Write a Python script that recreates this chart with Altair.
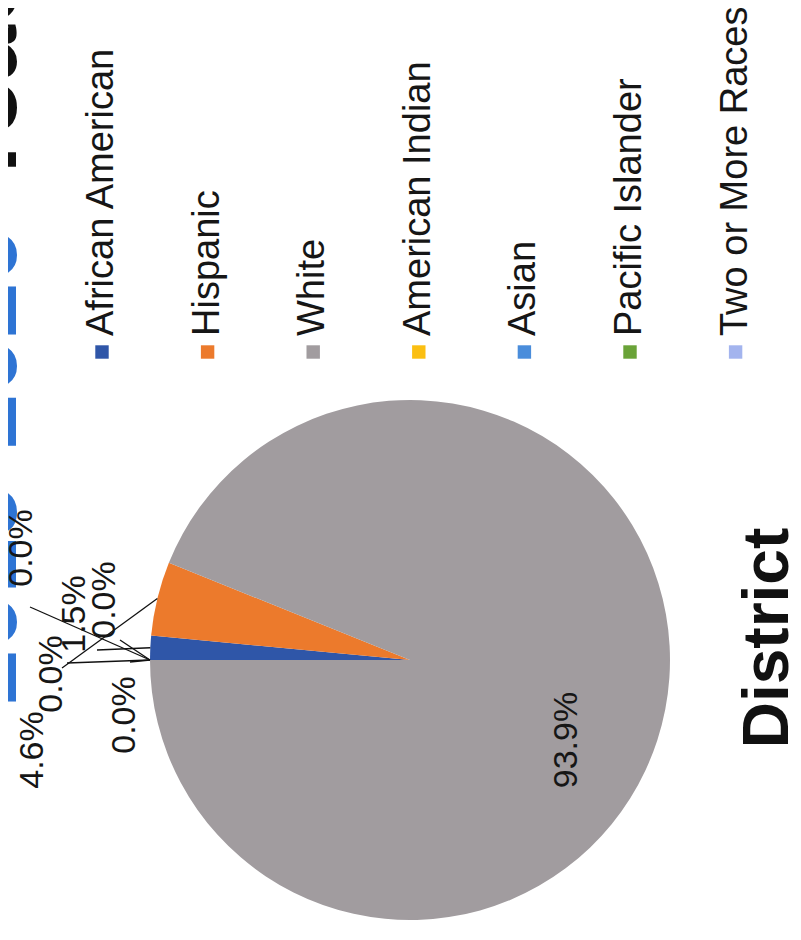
import math
import altair as alt
import pandas as pd

# ---- data -------------------------------------------------------------
categories = ["African American", "Hispanic", "White", "American Indian",
              "Asian", "Pacific Islander", "Two or More Races"]
values = [1.5, 4.6, 93.9, 0.0, 0.0, 0.0, 0.0]
colors = ["#2f56a8", "#ec7a2c", "#a19c9f", "#fbbf12",
          "#4a8ddb", "#6aa338", "#a3b4ee"]
title_parts = ["2019-2020", "Teacher"]
subtitle = "District"

# ---- layout (style constants, not data) --------------------------------
W, H = 785, 924
CX, CY, R = 402, 652, 260
# label centre offsets from the pie centre (Excel-style manual placement)
label_off = [(-335, -46), (-377, 90), (157, 80), (-305, -60),
             (-358, 14), (-388, -112), (-285, 55)]
# leader line end offsets (None = no leader)
leader_end = [(-313, -10), (-348, 8), None, (-290, -20),
              (-343, 3), (-380, -53), (-280, 2)]
START = 1.5 * math.pi

df = pd.DataFrame({"category": categories, "value": values,
                   "order": list(range(len(categories)))})
df["label"] = [f"{v:.1f}%" for v in values]
df["lx"] = [CX + o[0] for o in label_off]
df["ly"] = [CY + o[1] for o in label_off]

total = sum(values)
rows = []
cum = 0.0
for cat, v, end in zip(categories, values, leader_end):
    mid = START + 2 * math.pi * (cum + v / 2) / total
    cum += v
    if end is None:
        continue
    rows.append({"category": cat,
                 "x": CX + R * math.sin(mid), "y": CY - R * math.cos(mid),
                 "x2": CX + end[0], "y2": CY + end[1]})
leaders = pd.DataFrame(rows)

color_scale = alt.Scale(domain=categories, range=colors)

pie = alt.Chart(df).mark_arc(outerRadius=R).encode(
    theta=alt.Theta("value:Q", stack=True,
                    scale=alt.Scale(range=[START, START + 2 * math.pi])),
    order=alt.Order("order:Q"),
    color=alt.Color("category:N", scale=color_scale, legend=None),
    x=alt.value(CX), y=alt.value(CY),
)

leader_lines = alt.Chart(leaders).mark_rule(color="#111111", strokeWidth=1.3).encode(
    x=alt.X("x:Q", scale=None, axis=None),
    y=alt.Y("y:Q", scale=None, axis=None),
    x2="x2:Q", y2="y2:Q",
)

pct = alt.Chart(df).mark_text(
    angle=270, align="center", baseline="middle", font="Liberation Sans",
    fontSize=34, color="#161616",
).encode(
    x=alt.X("lx:Q", scale=None, axis=None),
    y=alt.Y("ly:Q", scale=None, axis=None),
    text="label:N",
)

# legend drawn as rotated items
LEG_X0, LEG_STEP, LEG_SQ_Y, LEG_TXT_Y = 94, 105.6, 344, 328
leg = pd.DataFrame({"category": categories,
                    "i": list(range(len(categories)))})
leg_base = alt.Chart(leg).transform_calculate(
    px=f"{LEG_X0} + datum.i * {LEG_STEP}")
leg_sq = leg_base.mark_square(size=180, opacity=1).encode(
    x=alt.X("px:Q", scale=None, axis=None),
    y=alt.value(LEG_SQ_Y),
    color=alt.Color("category:N", scale=color_scale, legend=None),
)
leg_txt = leg_base.mark_text(
    angle=270, align="left", baseline="middle", font="Liberation Sans",
    fontSize=38, color="#161616",
).encode(
    x=alt.X("px:Q", scale=None, axis=None),
    y=alt.value(LEG_TXT_Y),
    text="category:N",
)

title_blue = alt.Chart(pd.DataFrame({"t": [title_parts[0]]})).mark_text(
    angle=270, align="left", baseline="alphabetic", font="Liberation Sans",
    fontWeight="bold", fontSize=100, color="#2e74d4",
).encode(x=alt.value(8), y=alt.value(697), text="t:N")

title_black = alt.Chart(pd.DataFrame({"t": [title_parts[1]]})).mark_text(
    angle=270, align="left", baseline="alphabetic", font="Liberation Sans",
    fontWeight="bold", fontSize=100, color="#111111",
).encode(x=alt.value(8), y=alt.value(182), text="t:N")

district = alt.Chart(pd.DataFrame({"t": [subtitle]})).mark_text(
    angle=270, align="center", baseline="alphabetic", font="Liberation Sans",
    fontWeight="bold", fontSize=64, color="#111111",
).encode(x=alt.value(780), y=alt.value(630), text="t:N")

chart = alt.layer(
    title_blue, title_black, pie, leader_lines, pct, leg_sq, leg_txt, district
).resolve_scale(x="independent", y="independent").properties(
    width=W, height=H, padding=0,
    autosize=alt.AutoSizeParams(type="none"),
).configure_view(stroke=None)

chart.save("out.html", embed_options={"renderer": "svg", "actions": False})
